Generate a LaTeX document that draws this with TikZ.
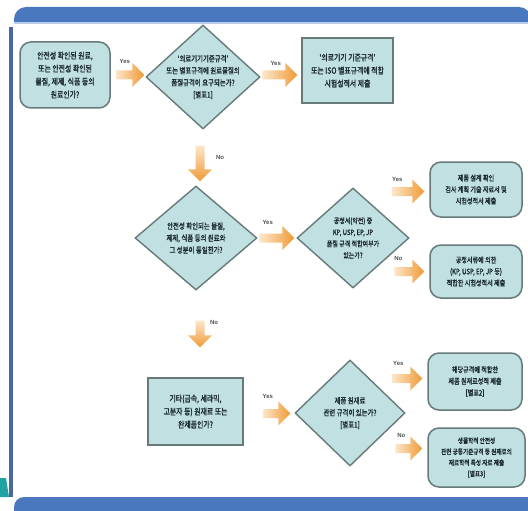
\documentclass[tikz,border=0pt]{standalone}
\usepackage{fontspec}
\setmainfont{Liberation Sans}
\newfontfamily\kr[FakeStretch=0.8,FakeBold=1.6]{Noto Sans CJK KR}
\usetikzlibrary{shapes.geometric,calc}
\definecolor{bandblue}{HTML}{4A78BE}
\definecolor{bandlight}{HTML}{B9CDE8}
\definecolor{lineblue}{HTML}{4A6A9E}
\definecolor{boxfill}{HTML}{C1E0E1}
\definecolor{boxdraw}{HTML}{667A7A}
\definecolor{arrLight}{HTML}{FCE6CA}
\definecolor{arrDark}{HTML}{F09A35}
\definecolor{txtcol}{HTML}{1A2A2C}
\definecolor{cornerteal}{HTML}{1FA3A3}
\definecolor{lblcol}{HTML}{4E5656}
\tikzset{
  base/.style={fill=boxfill, draw=boxdraw, line width=1.5pt, inner sep=2pt, align=center, text=txtcol,
    font=\kr\fontsize{8.6}{13}\selectfont},
  rbox/.style={base, rounded corners=11pt},
  sbox/.style={base},
  small/.style={font=\kr\fontsize{7.6}{11.5}\selectfont},
  dia/.style={diamond, fill=boxfill, draw=boxdraw, line width=1.4pt, inner sep=0pt},
  dtext/.style={align=center, text=txtcol, inner sep=0pt, font=\kr\fontsize{8}{12}\selectfont},
  lbl/.style={text=lblcol, inner sep=0pt, font=\fontsize{6}{7}\selectfont\bfseries}
}
\newcommand{\ArrH}[2]{%
  \shade[left color=arrLight, right color=arrDark]
    ($(#1)+(0,-4.5)$) -- ($(#2)+(-12,-4.5)$) -- ($(#2)+(-12,-12)$) -- (#2) --
    ($(#2)+(-12,12)$) -- ($(#2)+(-12,4.5)$) -- ($(#1)+(0,4.5)$) -- cycle;}
\newcommand{\ArrV}[2]{%
  \shade[top color=arrLight, bottom color=arrDark]
    ($(#1)+(-4.5,0)$) -- ($(#2)+(-4.5,-12)$) -- ($(#2)+(-12,-12)$) -- (#2) --
    ($(#2)+(12,-12)$) -- ($(#2)+(4.5,-12)$) -- ($(#1)+(4.5,0)$) -- cycle;}
\begin{document}
\begin{tikzpicture}[x=1pt,y=-1pt]
\useasboundingbox (0,0) rectangle (528,511);
\fill[white] (0,0) rectangle (528,511);
% frame
\fill[bandblue, rounded corners=12pt] (14,7) rectangle (531,40);
\fill[white] (13,24) rectangle (532,42);
\fill[bandlight] (14,22) rectangle (528,24);
\fill[lineblue] (9,27) rectangle (13,497);
\fill[bandblue, rounded corners=10pt] (14,497) rectangle (545,530);
\fill[cornerteal] (0,478) -- (6,478) -- (9,497) -- (0,497) -- cycle;

% nodes
\node[rbox, minimum width=90pt, minimum height=66pt] (n1) at (65,75)
  {안전성 확인된 원료,\\또는 안전성 확인된\\물질, 제제, 식품 등의\\원료인가?};
\node[dia, minimum width=114pt, minimum height=104pt] (d1) at (203,77) {};
\node[dtext] (d1t) at (d1) {‘의료기기기준규격’\\또는 별표규격에 원료물질의\\품질규격이 요구되는가?\\{[}별표1{]}};
\node[sbox, minimum width=91pt, minimum height=65pt] (n3) at (347.5,70.5)
  {‘의료기기 기준규격’\\또는 ISO 별표규격에 적합\\시험성적서 제출};

\node[dia, minimum width=122pt, minimum height=104pt] (d2) at (196,238) {};
\node[dtext] (d2t) at (d2) {안전성 확인되는 물질,\\제제, 식품 등의 원료와\\그 성분이 동일한가?};
\node[dia, minimum width=112pt, minimum height=100pt] (d3) at (353,238) {};
\node[dtext, font=\kr\fontsize{7.5}{11.5}\selectfont] (d3t) at (d3) {공정서(약전) 중\\KP, USP, EP, JP\\품질 규격 적합여부가\\있는가?};
\node[rbox, small, minimum width=92pt, minimum height=55pt] (r1) at (476,189.5)
  {제품 설계 확인\\검사 계획 기술 자료서 및\\시험성적서 제출};
\node[rbox, small, minimum width=92pt, minimum height=53pt] (r2) at (476,271.5)
  {공정서류에 의한\\(KP, USP, EP, JP 등)\\적합한 시험성적서 제출};

\node[sbox, minimum width=95pt, minimum height=67pt] (n8) at (195.5,411.5)
  {기타(금속, 세라믹,\\고분자 등) 원재료 또는\\완제품인가?};
\node[dia, minimum width=110pt, minimum height=106pt] (d4) at (350,413) {};
\node[dtext] (d4t) at (d4) {제품 원재료\\관련 규격이 있는가?\\{[}별표1{]}};
\node[rbox, small, minimum width=94pt, minimum height=57pt] (r3) at (475,381.5)
  {해당규격에 적합한\\제품 원재료성적 제출\\{[}별표2{]}};
\node[rbox, small, font=\kr\fontsize{7}{11}\selectfont, minimum width=97pt, minimum height=59pt] (r4) at (476.5,457.5)
  {생물학적 안전성\\관련 공통기준규격 등 원재료의\\재료학적 특성 자료 제출\\{[}별표3{]}};

% connectors
\coordinate (a1t) at ($(n1.east)+(5,0)$);
\coordinate (a1h) at ($(a1t -| d1.west)+(-1,0)$);
\ArrH{a1t}{a1h}
\coordinate (a2t) at ($(d1.east)+(2,-2)$);
\coordinate (a2h) at ($(a2t -| n3.west)+(-4,0)$);
\ArrH{a2t}{a2h}
\coordinate (a3t) at ($(d1.south)+(-3,16)$);
\coordinate (a3h) at ($(a3t |- d2.north)+(0,-4)$);
\ArrV{a3t}{a3h}
\coordinate (a4t) at ($(d2.east)+(2,0)$);
\coordinate (a4h) at ($(a4t -| d3.west)+(-2,0)$);
\ArrH{a4t}{a4h}
\coordinate (a5t) at ($(r1.west)+(-37,2)$);
\coordinate (a5h) at ($(r1.west)+(-5,2)$);
\ArrH{a5t}{a5h}
\coordinate (a6t) at ($(r2.west)+(-35,0)$);
\coordinate (a6h) at ($(r2.west)+(-5,0)$);
\ArrH{a6t}{a6h}
\coordinate (a7t) at ($(d2.south)+(4,30)$);
\coordinate (a7h) at ($(a7t |- n8.north)+(0,-30)$);
\ArrV{a7t}{a7h}
\coordinate (a8t) at ($(n8.east)+(19,2)$);
\coordinate (a8h) at ($(a8t -| d4.west)+(-4,0)$);
\ArrH{a8t}{a8h}
\coordinate (a9t) at ($(r3.west)+(-35,-3)$);
\coordinate (a9h) at ($(r3.west)+(-5,-3)$);
\ArrH{a9t}{a9h}
\coordinate (a10t) at ($(r4.west)+(-32,-9)$);
\coordinate (a10h) at ($(r4.west)+(-5,-9)$);
\ArrH{a10t}{a10h}

% labels
\node[lbl] (y1) at ($(a1t)+(9,-14)$) {Yes};
\node[lbl] (y2) at ($(a2t)+(13,-12)$) {Yes};
\node[lbl] (no1) at ($(a3t)+(20,12)$) {No};
\node[lbl] (y3) at ($(a4t)+(8,-16)$) {Yes};
\node[lbl] (y4) at ($(a5t)+(5,-12)$) {Yes};
\node[lbl] (no2) at ($(a6t)+(4,-13)$) {No};
\node[lbl] (no3) at ($(a7t)+(14,2)$) {No};
\node[lbl] (y5) at ($(a8t)+(5,-17)$) {Yes};
\node[lbl] (y6) at ($(a9t)+(6,-15)$) {Yes};
\node[lbl] (no4) at ($(a10t)+(6,-13)$) {No};
\end{tikzpicture}
\end{document}
